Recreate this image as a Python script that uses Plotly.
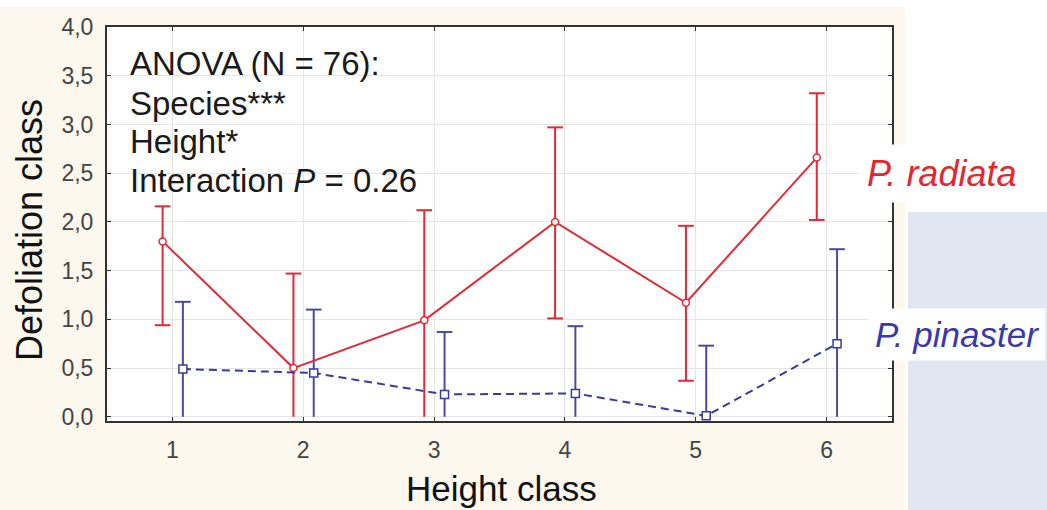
import plotly.graph_objects as go

# ---- data ----
height_class = [1, 2, 3, 4, 5, 6]
radiata_mean = [1.80, 0.50, 0.99, 2.00, 1.17, 2.66]
radiata_upper = [2.16, 1.47, 2.12, 2.97, 1.96, 3.32]
radiata_lower = [0.94, 0.0, 0.0, 1.01, 0.37, 2.02]
pinaster_mean = [0.49, 0.45, 0.23, 0.24, 0.01, 0.75]
pinaster_upper = [1.18, 1.10, 0.87, 0.93, 0.73, 1.72]
pinaster_lower = [0.0, 0.0, 0.0, 0.0, 0.0, 0.0]
y_ticks = [0.0, 0.5, 1.0, 1.5, 2.0, 2.5, 3.0, 3.5, 4.0]

W, H = 1047, 510
ML, MR, MT, MB = 107, 155, 27, 89
PW, PH = W - ML - MR, H - MT - MB

def px(x):
    return (x - ML) / PW

def py(y):
    return (H - MB - y) / PH

FONT = "Arial, Liberation Sans, sans-serif"
RED = "#e02a38"
BLUE = "#3a3a9c"

X_RANGE = [0.5, 6.5]
CAP = 0.06  # cap half-width in x units


def errbar_xy(xs, lo, hi):
    ex, ey = [], []
    for x, l, h in zip(xs, lo, hi):
        ex += [x, x, None, x - CAP, x + CAP, None]
        ey += [l, h, None, h, h, None]
        if l > 0.01:
            ex += [x - CAP, x + CAP, None]
            ey += [l, l, None]
    return ex, ey


xr = [h - 0.075 for h in height_class]
xb = [h + 0.08 for h in height_class]

fig = go.Figure()

ex, ey = errbar_xy(xr, radiata_lower, radiata_upper)
fig.add_trace(go.Scatter(x=ex, y=ey, mode="lines", line=dict(color=RED, width=2),
                         hoverinfo="skip", showlegend=False))
ex, ey = errbar_xy(xb, pinaster_lower, pinaster_upper)
fig.add_trace(go.Scatter(x=ex, y=ey, mode="lines", line=dict(color="#4a4aa6", width=2),
                         hoverinfo="skip", showlegend=False))

fig.add_trace(go.Scatter(
    x=xr, y=radiata_mean, mode="lines+markers", name="P. radiata",
    line=dict(color=RED, width=2),
    marker=dict(symbol="circle", size=7, color="white", line=dict(color=RED, width=1.5)),
    showlegend=False))
fig.add_trace(go.Scatter(
    x=xb, y=pinaster_mean, mode="lines+markers", name="P. pinaster",
    line=dict(color=BLUE, width=2, dash="8px,5px"),
    marker=dict(symbol="square", size=8, color="white", line=dict(color=BLUE, width=1.5)),
    showlegend=False))

shapes = [
    dict(type="rect", xref="paper", yref="paper", layer="below",
         x0=px(0), x1=px(905), y0=py(H), y1=py(7),
         fillcolor="#fcf8ee", line=dict(width=0)),
    dict(type="rect", xref="paper", yref="paper", layer="below",
         x0=px(908), x1=px(W), y0=py(H), y1=py(212),
         fillcolor="#e2e6f2", line=dict(width=0)),
    dict(type="rect", xref="paper", yref="paper", layer="below",
         x0=0, x1=1, y0=0, y1=1,
         fillcolor="white", line=dict(width=0)),
]

anns = []
for txt, yy in [("ANOVA (N = 76):", 63), ("Species***", 103),
                ("Height*", 141), ("Interaction <i>P</i> = 0.26", 180)]:
    anns.append(dict(text=txt, xref="paper", yref="paper", x=px(128), y=py(yy),
                     xanchor="left", yanchor="middle", showarrow=False,
                     font=dict(family=FONT, size=33, color="#1a1a1a")))
anns.append(dict(text="<i>P. radiata</i>", xref="paper", yref="paper", x=px(941), y=py(173),
                 xanchor="center", yanchor="middle", showarrow=False, bgcolor="white",
                 borderpad=8, font=dict(family=FONT, size=36, color="#e4262f")))
anns.append(dict(text="<i>P. pinaster</i>", xref="paper", yref="paper", x=px(957), y=py(334),
                 xanchor="center", yanchor="middle", showarrow=False, bgcolor="white",
                 borderpad=6, font=dict(family=FONT, size=35, color="#3a3aa6")))
anns.append(dict(text="Height class", xref="paper", yref="paper", x=px(501), y=py(488),
                 xanchor="center", yanchor="middle", showarrow=False,
                 font=dict(family=FONT, size=35, color="#111111")))
anns.append(dict(text="Defoliation class", xref="paper", yref="paper", x=px(30), y=py(230),
                 xanchor="center", yanchor="middle", showarrow=False, textangle=-90,
                 font=dict(family=FONT, size=36, color="#111111")))

fig.update_layout(
    width=W, height=H,
    margin=dict(l=ML, r=MR, t=MT, b=MB, pad=0),
    paper_bgcolor="white", plot_bgcolor="white",
    separators=",.",
    shapes=shapes, annotations=anns,
    font=dict(family=FONT),
)
fig.update_xaxes(range=X_RANGE, tickmode="array", tickvals=height_class,
                 ticktext=[str(h) for h in height_class],
                 showgrid=True, gridcolor="#e6e6e6", gridwidth=1,
                 showline=True, linecolor="#333333", linewidth=2, mirror="ticks",
                 ticks="inside", ticklen=4, tickcolor="#333333",
                 tickfont=dict(family=FONT, size=23, color="#444444"),
                 ticklabelstandoff=7, zeroline=False)
fig.update_yaxes(range=[-0.043, 4.0], tickmode="array", tickvals=y_ticks,
                 tickformat=".1f",
                 showgrid=True, gridcolor="#e6e6e6", gridwidth=1,
                 showline=True, linecolor="#333333", linewidth=2, mirror="ticks",
                 ticks="inside", ticklen=4, tickcolor="#333333",
                 tickfont=dict(family=FONT, size=23, color="#444444"),
                 ticklabelstandoff=7, zeroline=False)

fig.write_html("out.html")
